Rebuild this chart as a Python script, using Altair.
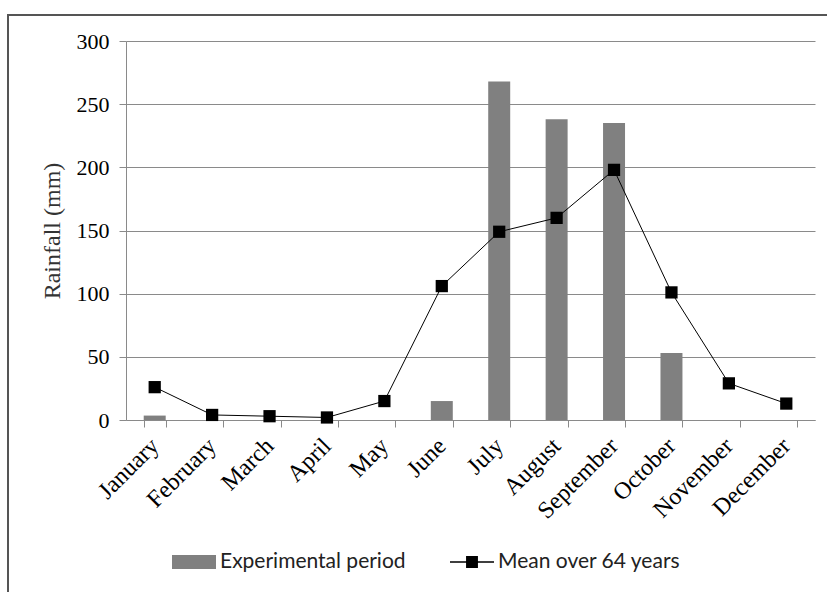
import altair as alt
import pandas as pd

months = ["January", "February", "March", "April", "May", "June", "July",
          "August", "September", "October", "November", "December"]
experimental = [3.5, 0, 0, 0, 0, 15, 268, 238, 235, 53, 0, 0]
mean64 = [26, 4, 3, 2, 15, 106, 149, 160, 198, 101, 29, 13]
series_names = ["Experimental period", "Mean over 64 years"]
y_ticks = [0, 50, 100, 150, 200, 250, 300]

df = pd.DataFrame({"month": months, "exp": experimental, "mean": mean64})
leg_df = pd.DataFrame({"series": series_names, "month": [months[0]] * 2, "v": [0, 0]})

bar_path = "M-1,-0.32H1V0.32H-1Z"
line_path = ("M-1,-0.03H-0.27V-0.27H0.27V-0.03H1V0.03H0.27V0.27H-0.27V0.03H-1Z")

xenc = alt.X("month:N", sort=months,
             scale=alt.Scale(paddingInner=0.617, paddingOuter=0.3085),
             axis=alt.Axis(title=None, labelAngle=-45, labelAlign="right",
                           labelBaseline="middle", tickBand="extent", tickSize=7,
                           labelPadding=15, labelFont="Liberation Serif",
                           labelFontSize=24, labelColor="#000", grid=False,
                           domainColor="#8a8a8a", tickColor="#8a8a8a"))
yscale = alt.Scale(domain=[0, 300], nice=False)
yaxis = alt.Axis(title="Rainfall (mm)", values=y_ticks, tickSize=7, labelPadding=10,
                 labelFont="Liberation Serif", labelFontSize=22, labelColor="#000",
                 titleFont="Liberation Serif", titleFontSize=24, titleFontWeight="normal",
                 titleColor="#333", titlePadding=12, grid=True, gridColor="#8a8a8a",
                 domainColor="#8a8a8a", tickColor="#8a8a8a")

base = alt.Chart(df)

bars = base.mark_bar(color="#808080").encode(
    x=xenc,
    y=alt.Y("exp:Q", scale=yscale, axis=yaxis),
)

line = base.mark_line(color="#000", strokeWidth=1).encode(
    x=alt.X("month:N", sort=months),
    y=alt.Y("mean:Q", scale=yscale),
)

points = base.mark_point(shape="square", filled=True, color="#000", size=150, opacity=1).encode(
    x=alt.X("month:N", sort=months),
    y=alt.Y("mean:Q", scale=yscale),
)

legend_layer = alt.Chart(leg_df).mark_point(filled=True, opacity=0, strokeWidth=0).encode(
    x=alt.X("month:N", sort=months),
    y=alt.Y("v:Q", scale=yscale),
    shape=alt.Shape("series:N", scale=alt.Scale(domain=series_names, range=[bar_path, line_path]),
                    legend=alt.Legend(title=None)),
    fill=alt.Fill("series:N", scale=alt.Scale(domain=series_names, range=["#808080", "#000000"]),
                  legend=alt.Legend(title=None)),
)

frame_df = pd.DataFrame({"k": [0]})
frame = alt.Chart(frame_df).mark_rect(fill=None, stroke="#555", strokeWidth=2).encode(
    x=alt.value(-118), x2=alt.value(720), y=alt.value(-26), y2=alt.value(570)
)

chart = alt.layer(frame, bars, line, points, legend_layer).properties(
    width=689, height=379,
    autosize=alt.AutoSizeParams(type="none"),
    padding={"left": 126, "top": 41, "right": 12, "bottom": 172},
).configure_view(stroke=None).configure_legend(
    orient="none", legendX=46, legendY=499, direction="horizontal",
    symbolSize=1936, symbolOpacity=1, symbolStrokeWidth=0,
    labelFont="Lato", labelFontSize=21, labelColor="#222", labelOffset=4,
    labelLimit=400, columnPadding=44, symbolType="square"
)

chart.save("out.html", embed_options={"renderer": "svg", "actions": False})
